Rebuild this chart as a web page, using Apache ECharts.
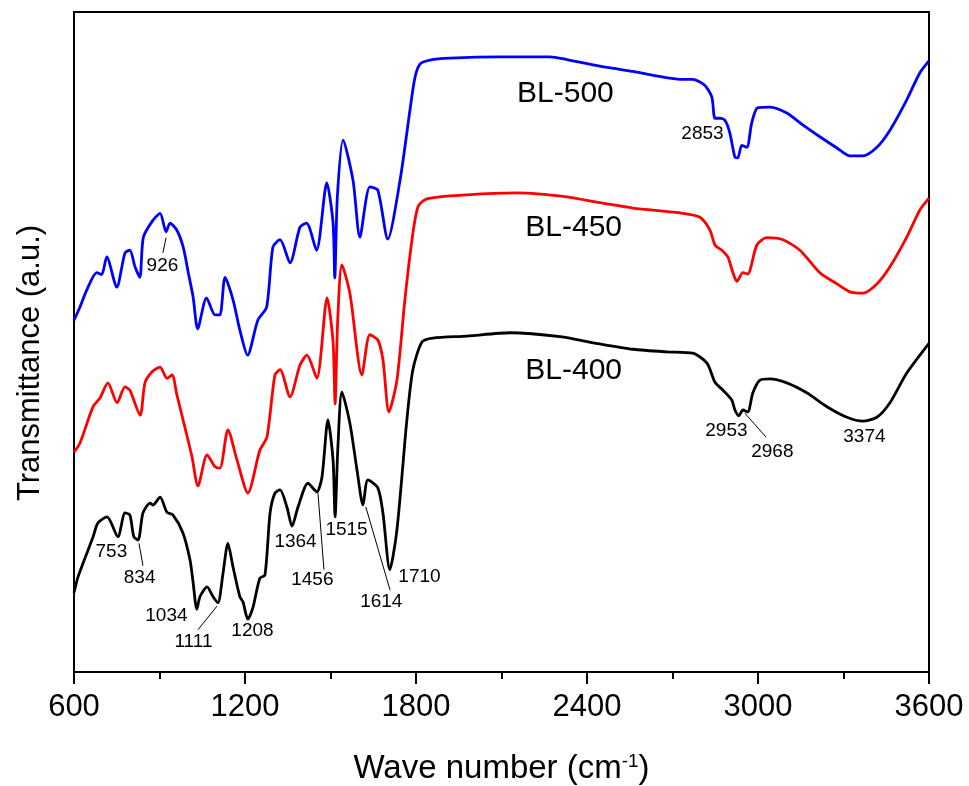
<!DOCTYPE html>
<html>
<head>
<meta charset="utf-8">
<script src="https://cdn.jsdelivr.net/npm/echarts@6/dist/echarts.min.js"></script>
<style>
  html, body { margin: 0; padding: 0; background: #fff; }
  #main { width: 969px; height: 786px; }
</style>
</head>
<body>
<div id="main"></div>
<script>
// [wave number, transmittance (a.u., arbitrary 0-100)]
const bl500 = [
  [600, 53.3], [621, 55.3], [645, 57.9], [680, 60.5], [697, 60.2], [715, 62.9], [750, 58.3],
  [779, 63.5], [796, 63.9], [814, 61.4], [831, 59.8], [843, 65.8], [873, 68.2], [902, 69.5],
  [923, 66.7], [937, 68.0], [960, 67.0], [983, 64.4], [1001, 60.5], [1018, 56.8], [1034, 52.0],
  [1065, 56.7], [1095, 54.1], [1112, 54.1], [1130, 59.8], [1158, 56.4], [1182, 51.8], [1209, 48.0],
  [1245, 53.3], [1276, 55.3], [1298, 64.4], [1323, 65.5], [1358, 62.0], [1393, 67.4], [1416, 68.0],
  [1451, 63.9], [1487, 74.1], [1509, 68.0], [1515, 59.7], [1524, 72.0], [1544, 80.6], [1579, 74.5], [1603, 65.9],
  [1638, 73.5], [1666, 73.0], [1701, 65.6], [1744, 74.5], [1779, 85.2], [1796, 90.0], [1814, 92.1],
  [1849, 92.7], [1919, 93.0], [2094, 93.2], [2270, 93.2], [2329, 92.8], [2445, 91.8], [2561, 91.0],
  [2736, 89.8], [2771, 89.8], [2813, 88.9], [2838, 87.1], [2849, 83.9], [2866, 83.9], [2884, 83.6],
  [2901, 81.7], [2919, 78.0], [2929, 77.9], [2943, 79.8], [2961, 79.5], [2978, 83.2], [2999, 85.5],
  [3042, 85.6], [3101, 84.7], [3157, 82.9], [3217, 81.1], [3277, 79.4], [3322, 78.2], [3368, 78.2],
  [3417, 79.5], [3463, 82.1], [3522, 86.7], [3568, 90.8], [3600, 92.6]
];

const bl450 = [
  [600, 33.3], [621, 34.7], [667, 40.2], [691, 41.5], [719, 43.8], [751, 40.8], [779, 43.2],
  [796, 42.7], [832, 38.9], [849, 43.8], [874, 45.5], [902, 46.2], [926, 44.5], [944, 45.0],
  [961, 42.0], [989, 37.1], [1014, 32.6], [1035, 28.2], [1067, 32.9], [1095, 31.1], [1112, 30.9],
  [1140, 36.7], [1172, 32.1], [1210, 27.1], [1252, 33.6], [1277, 35.6], [1305, 45.0], [1323, 45.8],
  [1358, 41.7], [1393, 46.5], [1417, 48.0], [1452, 44.5], [1488, 56.7], [1509, 50.0], [1516, 40.6], [1525, 53.0],
  [1540, 61.7], [1568, 57.4], [1610, 45.0], [1638, 51.1], [1666, 50.3], [1684, 47.3], [1705, 39.4],
  [1733, 44.2], [1761, 56.4], [1786, 65.5], [1807, 70.5], [1838, 71.7], [1979, 72.3], [2154, 72.6],
  [2329, 72.0], [2445, 71.1], [2561, 70.3], [2736, 69.5], [2796, 68.9], [2831, 67.0], [2849, 64.7],
  [2873, 63.9], [2894, 62.9], [2912, 60.5], [2926, 59.2], [2947, 60.5], [2964, 60.3], [2996, 64.7],
  [3031, 65.8], [3087, 65.5], [3147, 63.9], [3217, 60.5], [3277, 58.8], [3322, 57.6], [3368, 57.4],
  [3417, 58.8], [3463, 61.4], [3522, 65.9], [3568, 70.0], [3600, 71.8]
];

const bl400 = [
  [600, 12.0], [614, 14.4], [632, 16.5], [667, 20.5], [684, 22.6], [716, 23.5], [754, 20.5],
  [779, 24.1], [796, 23.8], [810, 20.5], [825, 20.0], [842, 24.1], [867, 25.6], [877, 25.3],
  [902, 26.5], [926, 24.2], [947, 23.8], [982, 21.1], [1007, 17.0], [1017, 13.9], [1031, 9.5],
  [1042, 11.4], [1067, 12.9], [1088, 11.4], [1105, 10.5], [1123, 15.0], [1140, 19.5], [1158, 15.9],
  [1182, 11.4], [1193, 10.6], [1210, 8.0], [1228, 9.8], [1252, 14.2], [1270, 14.7], [1288, 24.1],
  [1305, 27.1], [1323, 27.6], [1347, 25.0], [1365, 22.1], [1386, 25.0], [1421, 28.6], [1452, 27.3],
  [1470, 29.5], [1491, 38.2], [1509, 32.1], [1516, 23.5], [1526, 34.1], [1540, 42.4], [1568, 37.7],
  [1593, 30.6], [1614, 25.3], [1631, 29.1], [1666, 27.9], [1684, 24.1], [1708, 15.5], [1733, 21.5],
  [1768, 38.2], [1789, 45.8], [1821, 50.0], [1859, 50.6], [1979, 50.9], [2130, 51.4], [2305, 50.8],
  [2445, 49.7], [2561, 48.9], [2680, 48.5], [2771, 48.3], [2821, 46.8], [2849, 43.9], [2877, 42.7],
  [2908, 41.2], [2919, 39.7], [2933, 38.8], [2947, 39.7], [2964, 39.4], [2982, 42.3], [3006, 44.2],
  [3042, 44.4], [3101, 43.8], [3171, 42.3], [3242, 40.2], [3312, 38.6], [3368, 38.0], [3417, 38.6],
  [3463, 40.8], [3522, 45.3], [3600, 49.8]
];

const xTicks = [600, 1200, 1800, 2400, 3000, 3600];

// sample names: [wave number, y, text]
const sampleLabels = [
  [2326, 87.6, 'BL-500'],
  [2355, 67.2, 'BL-450'],
  [2355, 45.6, 'BL-400']
];

// peak annotations: [wave number, y, text]
const peakLabels = [
  [912, 61.5, '926'], [2807, 81.5, '2853'],
  [733, 18.2, '753'], [832, 14.2, '834'], [926, 8.5, '1034'], [1021, 4.5, '1111'],
  [1228, 6.1, '1208'], [1379, 19.7, '1364'], [1438, 13.9, '1456'], [1558, 21.4, '1515'],
  [1680, 10.5, '1614'], [1814, 14.4, '1710'], [2891, 36.4, '2953'], [3052, 33.3, '2968'],
  [3375, 35.6, '3374']
];

// leader lines: [[x1, y1], [x2, y2]]
const leaders = [
  [[923, 65.8], [912, 63.5]],
  [[828, 19.5], [842, 16.1]],
  [[1035, 6.4], [1102, 10.0]],
  [[1456, 27.1], [1477, 15.5]],
  [[1624, 25.0], [1709, 12.4]],
  [[2954, 39.2], [3028, 35.6]]
];

const font = 'Liberation Sans, Arial, sans-serif';
const chart = echarts.init(document.getElementById('main'));

function curve (name, data, color) {
  return {
    name,
    type: 'line',
    data,
    showSymbol: false,
    smooth: 0.25,
    lineStyle: { color, width: 2.8 },
    z: 3
  };
}

function textSeries (data, fontSize) {
  return {
    type: 'scatter',
    data,
    symbolSize: 1,
    silent: true,
    itemStyle: { color: 'rgba(0,0,0,0)', opacity: 1 },
    label: {
      show: true,
      position: [0, 0],
      align: 'center',
      verticalAlign: 'middle',
      formatter: p => p.data[2],
      fontFamily: font,
      fontSize,
      color: '#000',
      opacity: 1
    },
    z: 4
  };
}

const peakSeries = textSeries(peakLabels, 19);
peakSeries.markLine = {
  silent: true,
  symbol: 'none',
  label: { show: false },
  lineStyle: { color: '#000', width: 1, type: 'solid', opacity: 1 },
  data: leaders.map(l => [{ coord: l[0] }, { coord: l[1] }])
};

const option = {
  animation: false,
  backgroundColor: '#fff',
  grid: {
    left: 74,
    right: 40,
    top: 12,
    bottom: 114,
    outerBoundsMode: 'none',
    show: true,
    borderColor: '#000',
    borderWidth: 2
  },
  xAxis: {
    type: 'value',
    min: 600,
    max: 3600,
    interval: 600,
    name: 'Wave number (cm{sup|-1})',
    nameLocation: 'middle',
    nameGap: 80,
    nameTextStyle: {
      fontFamily: font,
      fontSize: 33,
      color: '#000',
      rich: {
        sup: { fontSize: 19, verticalAlign: 'top', padding: [0, 0, 14, 0], fontFamily: font, color: '#000' }
      }
    },
    axisLine: { lineStyle: { color: '#000', width: 2 } },
    axisTick: { show: true, inside: false, length: 12, lineStyle: { color: '#000', width: 2 } },
    minorTick: { show: true, splitNumber: 2, length: 7, lineStyle: { color: '#000', width: 2 } },
    axisLabel: {
      fontFamily: font,
      fontSize: 31,
      color: '#000',
      margin: 20,
      customValues: xTicks,
      formatter: v => String(v)
    },
    splitLine: { show: false }
  },
  yAxis: {
    type: 'value',
    min: 0,
    max: 100,
    axisLine: { show: true, lineStyle: { color: '#000', width: 2 } },
    axisTick: { show: false },
    axisLabel: { show: false },
    splitLine: { show: false }
  },
  graphic: [
    {
      type: 'text',
      x: 30,
      y: 363,
      rotation: Math.PI / 2,
      style: {
        text: 'Transmittance (a.u.)',
        fontFamily: font,
        fontSize: 31,
        fill: '#000',
        align: 'center',
        verticalAlign: 'middle'
      }
    }
  ],
  series: [
    curve('BL-500', bl500, '#0000ff'),
    curve('BL-450', bl450, '#ff0000'),
    curve('BL-400', bl400, '#000000'),
    textSeries(sampleLabels, 30),
    peakSeries
  ]
};

chart.setOption(option);
</script>
</body>
</html>
